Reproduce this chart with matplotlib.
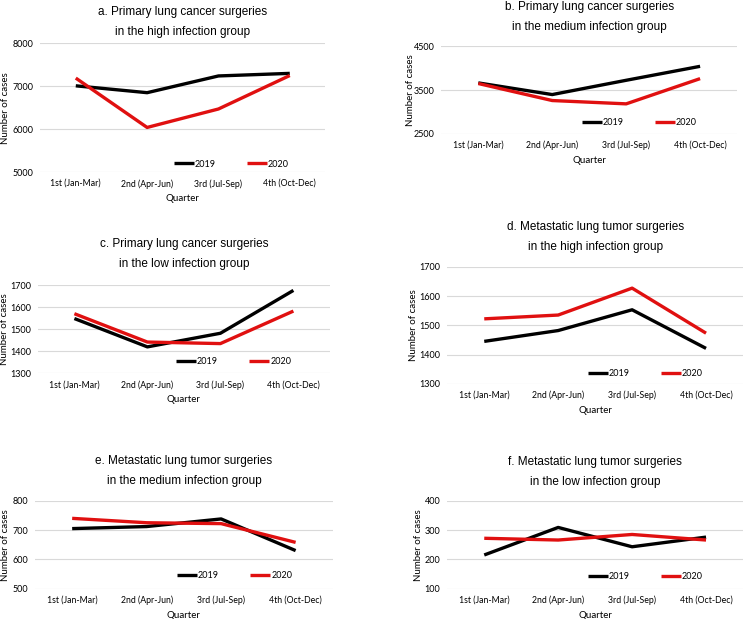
import matplotlib.pyplot as plt

quarters = ['1st (Jan-Mar)', '2nd (Apr-Jun)', '3rd (Jul-Sep)', '4th (Oct-Dec)']

titles = [
    'a. Primary lung cancer surgeries\nin the high infection group',
    'b. Primary lung cancer surgeries\nin the medium infection group',
    'c. Primary lung cancer surgeries\nin the low infection group',
    'd. Metastatic lung tumor surgeries\nin the high infection group',
    'e. Metastatic lung tumor surgeries\nin the medium infection group',
    'f. Metastatic lung tumor surgeries\nin the low infection group',
]

a_2019 = [7010, 6850, 7240, 7300]
a_2020 = [7190, 6040, 6470, 7250]
b_2019 = [3664, 3397, 3724, 4044]
b_2020 = [3650, 3260, 3184, 3762]
c_2019 = [1549, 1420, 1482, 1677]
c_2020 = [1571, 1442, 1435, 1583]
d_2019 = [1445, 1482, 1553, 1421]
d_2020 = [1522, 1535, 1627, 1473]
e_2019 = [705, 712, 738, 630]
e_2020 = [740, 725, 722, 658]
f_2019 = [215, 309, 243, 276]
f_2020 = [272, 266, 285, 266]

yticks = [
    [5000, 6000, 7000, 8000],
    [2500, 3500, 4500],
    [1300, 1400, 1500, 1600, 1700],
    [1300, 1400, 1500, 1600, 1700],
    [500, 600, 700, 800],
    [100, 200, 300, 400],
]

series = [(a_2019, a_2020), (b_2019, b_2020), (c_2019, c_2020),
          (d_2019, d_2020), (e_2019, e_2020), (f_2019, f_2020)]

# axes boxes in figure fractions (left, bottom, width, height)
boxes = [
    (0.054, 0.722, 0.384, 0.208),
    (0.594, 0.784, 0.398, 0.141),
    (0.051, 0.397, 0.393, 0.142),
    (0.602, 0.380, 0.398, 0.189),
    (0.047, 0.049, 0.401, 0.142),
    (0.602, 0.049, 0.398, 0.142),
]
legend_y = [0.062, 0.126, 0.136, 0.085, 0.148, 0.136]
title_pad = [6, 12, 13, 12, 12, 11]
ylabel_x = [-0.123, -0.105, -0.113, -0.115, -0.10, -0.098]

tick_font = 'Lato'
title_font = 'Liberation Sans'
red = '#e01010'

fig = plt.figure(figsize=(7.43, 6.19), dpi=100)

for i in range(6):
    ax = fig.add_axes(boxes[i])
    s19, s20 = series[i]
    x = range(len(quarters))
    ax.plot(x, s19, color='black', lw=2.4, label='2019', solid_capstyle='butt')
    ax.plot(x, s20, color=red, lw=2.4, label='2020', solid_capstyle='butt')
    ax.set_xlim(-0.5, 3.5)
    ax.set_ylim(yticks[i][0], yticks[i][-1])
    ax.set_yticks(yticks[i])
    ax.set_xticks(list(x))
    ax.set_xticklabels(quarters, fontfamily=tick_font, fontsize=6.3)
    for lab in ax.get_yticklabels():
        lab.set_fontfamily(tick_font)
        lab.set_fontsize(6.5)
    ax.tick_params(length=0, pad=5)
    ax.grid(axis='y', color='#d9d9d9', lw=0.8)
    ax.set_axisbelow(True)
    for sp in ax.spines.values():
        sp.set_visible(False)
    ax.set_xlabel('Quarter', fontfamily=tick_font, fontsize=7, labelpad=4)
    ax.set_ylabel('Number of cases', fontfamily=tick_font, fontsize=7, va='center')
    ax.yaxis.set_label_coords(ylabel_x[i], 0.5)
    ax.set_title(titles[i], fontfamily=title_font, fontsize=8.5, linespacing=1.9, pad=title_pad[i])
    ax.legend(loc='center', bbox_to_anchor=(0.67, legend_y[i]), ncol=2, frameon=False,
              prop={'family': tick_font, 'size': 6.5}, handlelength=2.2,
              handletextpad=0.1, columnspacing=3.5, borderpad=0)

fig.savefig('out.png', dpi=100)
